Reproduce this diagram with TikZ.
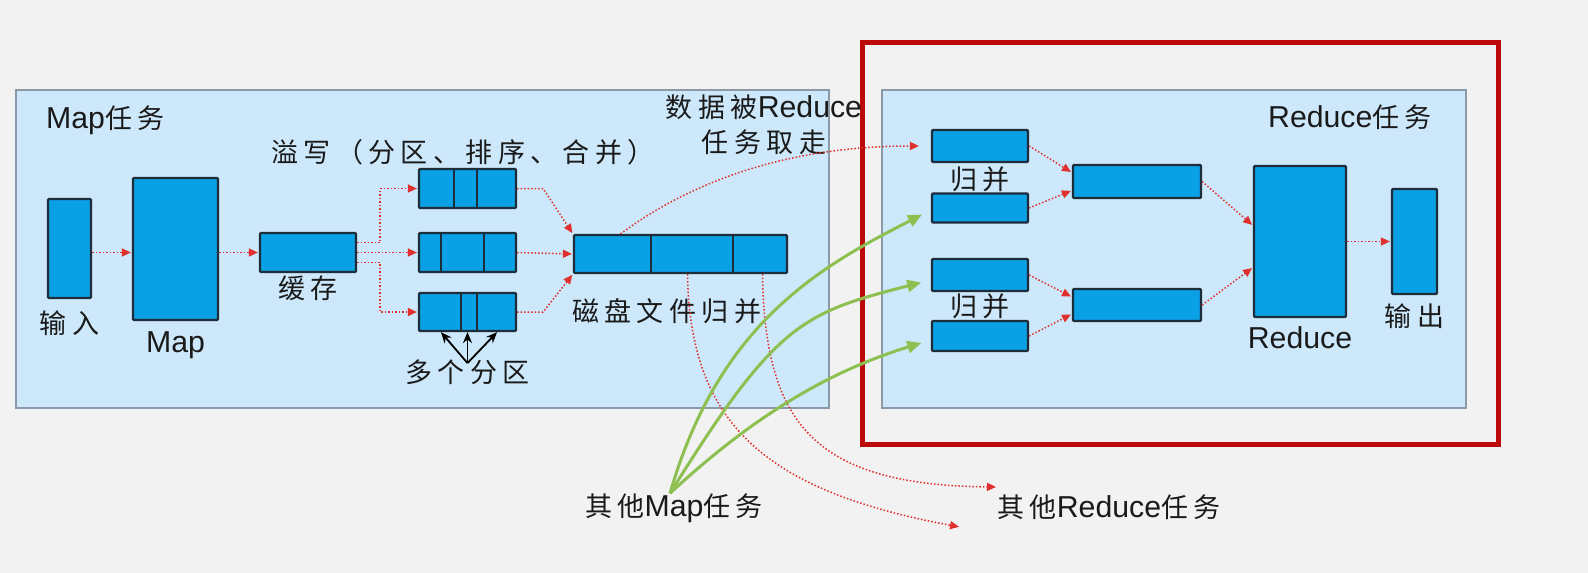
\documentclass[tikz,border=0pt]{standalone}
\usepackage{fontspec}
\setmainfont[Scale=1.12]{Liberation Sans}
\newfontfamily\cjk[LetterSpace=20]{Noto Sans CJK SC}
\usepackage{tikz}
\usetikzlibrary{arrows.meta}
\usetikzlibrary{positioning}

\definecolor{bggray}{HTML}{F2F2F2}
\definecolor{panefill}{HTML}{CCE8FA}
\definecolor{paneline}{HTML}{8C99A6}
\definecolor{boxblue}{HTML}{0AA0E6}
\definecolor{boxline}{HTML}{1E2D3A}
\definecolor{flowred}{HTML}{E0302E}
\definecolor{framered}{HTML}{BC0A0A}
\definecolor{feedgreen}{HTML}{8DC050}
\definecolor{txt}{HTML}{1A1A1A}

\newcommand{\zh}[1]{{\cjk #1}}

\begin{document}
\begin{tikzpicture}[x=1pt,y=-1pt,
	blk/.style={draw=boxline,fill=boxblue,line width=2.2pt,rounded corners=1pt,inner sep=0pt},
	lbl/.style={inner sep=0pt,text=txt,font=\fontsize{27}{35}\selectfont},
	flow/.style={flowred,line width=1.5pt,dash pattern=on 1.5pt off 2pt,-{Triangle[length=9pt,width=8pt]},shorten >=1pt},
	feed/.style={draw=feedgreen,line width=3pt,-{Triangle[length=14pt,width=12pt]},shorten >=10pt},
	pick/.style={draw=black,line width=1.8pt,-{Stealth[length=11pt,width=9pt]}},
	pane/.style={draw=paneline,fill=panefill,line width=1.5pt},
	divline/.style={draw=boxline,line width=2.5pt}]
	\fill[bggray] (0,0) rectangle (1588,573);
	\useasboundingbox (0,0) rectangle (1588,573);

	\draw[pane] (16,90) rectangle (829,408);
	\draw[pane] (882,90) rectangle (1466,408);
	\draw[framered,line width=5pt] (862,42) rectangle (1498,444);

	\node[blk,minimum width=43pt,minimum height=99pt] (inp) at (69.5,248.5) {};
	\node[blk,minimum width=85pt,minimum height=142pt] (map) at (175.5,249) {};
	\node[blk,minimum width=96pt,minimum height=39pt] (cache) at (308,252.5) {};
	\node[blk,minimum width=97pt,minimum height=39pt] (p1) at (467.5,188.5) {};
	\node[blk,minimum width=97pt,minimum height=39pt] (p2) at (467.5,252.5) {};
	\node[blk,minimum width=97pt,minimum height=38pt] (p3) at (467.5,312) {};
	\node[blk,minimum width=213pt,minimum height=38pt] (mrg) at (680.5,254) {};
	\foreach \n/\d in {p1/36,p1/59,p2/23,p2/66,p3/43,p3/59,mrg/78,mrg/160}
		\draw[divline] ([xshift=\d pt]\n.north west) -- ([xshift=\d pt]\n.south west);

	\node[blk,minimum width=96pt,minimum height=32pt] (ra) at (980,146) {};
	\node[blk,minimum width=96pt,minimum height=29pt] (rb) at (980,208) {};
	\node[blk,minimum width=96pt,minimum height=32pt] (rc) at (980,275) {};
	\node[blk,minimum width=96pt,minimum height=30pt] (rd) at (980,336) {};
	\node[blk,minimum width=128pt,minimum height=33pt] (mu) at (1137,181.5) {};
	\node[blk,minimum width=128pt,minimum height=32pt] (ml) at (1137,305) {};
	\node[blk,minimum width=92pt,minimum height=151pt] (red) at (1300,241.5) {};
	\node[blk,minimum width=45pt,minimum height=105pt] (out) at (1414.5,241.5) {};

	\node[lbl,anchor=west] (maptitle) at (46,120) {Map\zh{任务}};
	\node[lbl,anchor=west] (redtitle) at (1268,117) {Reduce\zh{任务}};
	\node[lbl,anchor=west] (spill) at (271,152) {\zh{溢写（分区、排序、合并）}};
	\node[lbl,align=center] (fetch) at (764,125) {\zh{数据被}Reduce\\\zh{任务取走}};
	\node[lbl] (inplbl) [below=11pt of inp] {\zh{输入}};
	\node[lbl] (maplbl) [below=10pt of map] {Map};
	\node[lbl] (cachelbl) [below=3pt of cache] {\zh{缓存}};
	\node[lbl] (dp) [below=27pt of p3] {\zh{多个分区}};
	\node[lbl] (disk) [below=24pt of mrg,xshift=-14pt] {\zh{磁盘文件归并}};
	\node[lbl] (m1) [below=3pt of ra] {\zh{归并}};
	\node[lbl] (m2) [below=1pt of rc] {\zh{归并}};
	\node[lbl] (redlbl) [below=8pt of red] {Reduce};
	\node[lbl] (outlbl) [below=8pt of out] {\zh{输出}};
	\node[lbl] (om) at (674,508) {\zh{其他}Map\zh{任务}};
	\node[lbl] (or) at (1109,507) {\zh{其他}Reduce\zh{任务}};
	\coordinate (o1) at (960,527);
	\coordinate (o2) at (997,487);

	\path[flow] (inp.east |- cache.west) edge (map.west |- cache.west)
		(map.east |- cache.west) edge (cache.west)
		(cache.east) edge (p2.west)
		(p2.east) edge (mrg.west)
		(ra.east) edge ([yshift=9pt]mu.west)
		(rb.east) edge ([yshift=-9pt]mu.west)
		(rc.east) edge ([yshift=8pt]ml.west)
		(rd.east) edge ([yshift=-9pt]ml.west)
		(mu.east) edge ([yshift=16pt]red.west)
		(ml.east) edge ([yshift=-26pt]red.west)
		(red.east) edge (out.west);
	\draw[flow] ([yshift=10pt]cache.east) -- ++(23,0) |- (p1.west);
	\draw[flow] ([yshift=-10pt]cache.east) -- ++(23,0) |- (p3.west);
	\draw[flow] (p1.east) -- ++(26,0) -- (mrg.north west);
	\draw[flow] (p3.east) -- ++(26,0) -- (mrg.south west);
	\draw[flow,shorten >=12pt] ([xshift=-60pt]mrg.north) .. controls (700,175) and (800,146) .. (ra.west);
	\draw[flow] ([xshift=7pt]mrg.south) .. controls (690,420) and (760,490) .. (o1);
	\draw[flow] ([xshift=82pt]mrg.south) .. controls (765,420) and (810,485) .. (o2);

	\foreach \s/\a in {23/south west,0/south,-20/south east}
		\draw[pick] ([yshift=-4pt]dp.north) -- ([xshift=\s pt]p3.\a);

	\draw[feed] ([xshift=-4pt]om.north) .. controls (720,320) and (824,265) .. ([yshift=-2pt]rb.west);
	\draw[feed] ([xshift=-4pt]om.north) .. controls (776,323) and (802,313) .. ([yshift=-5pt]rc.west);
	\draw[feed] ([xshift=-4pt]om.north) .. controls (765,405) and (843,367) .. ([yshift=-4pt]rd.west);
\end{tikzpicture}
\end{document}
